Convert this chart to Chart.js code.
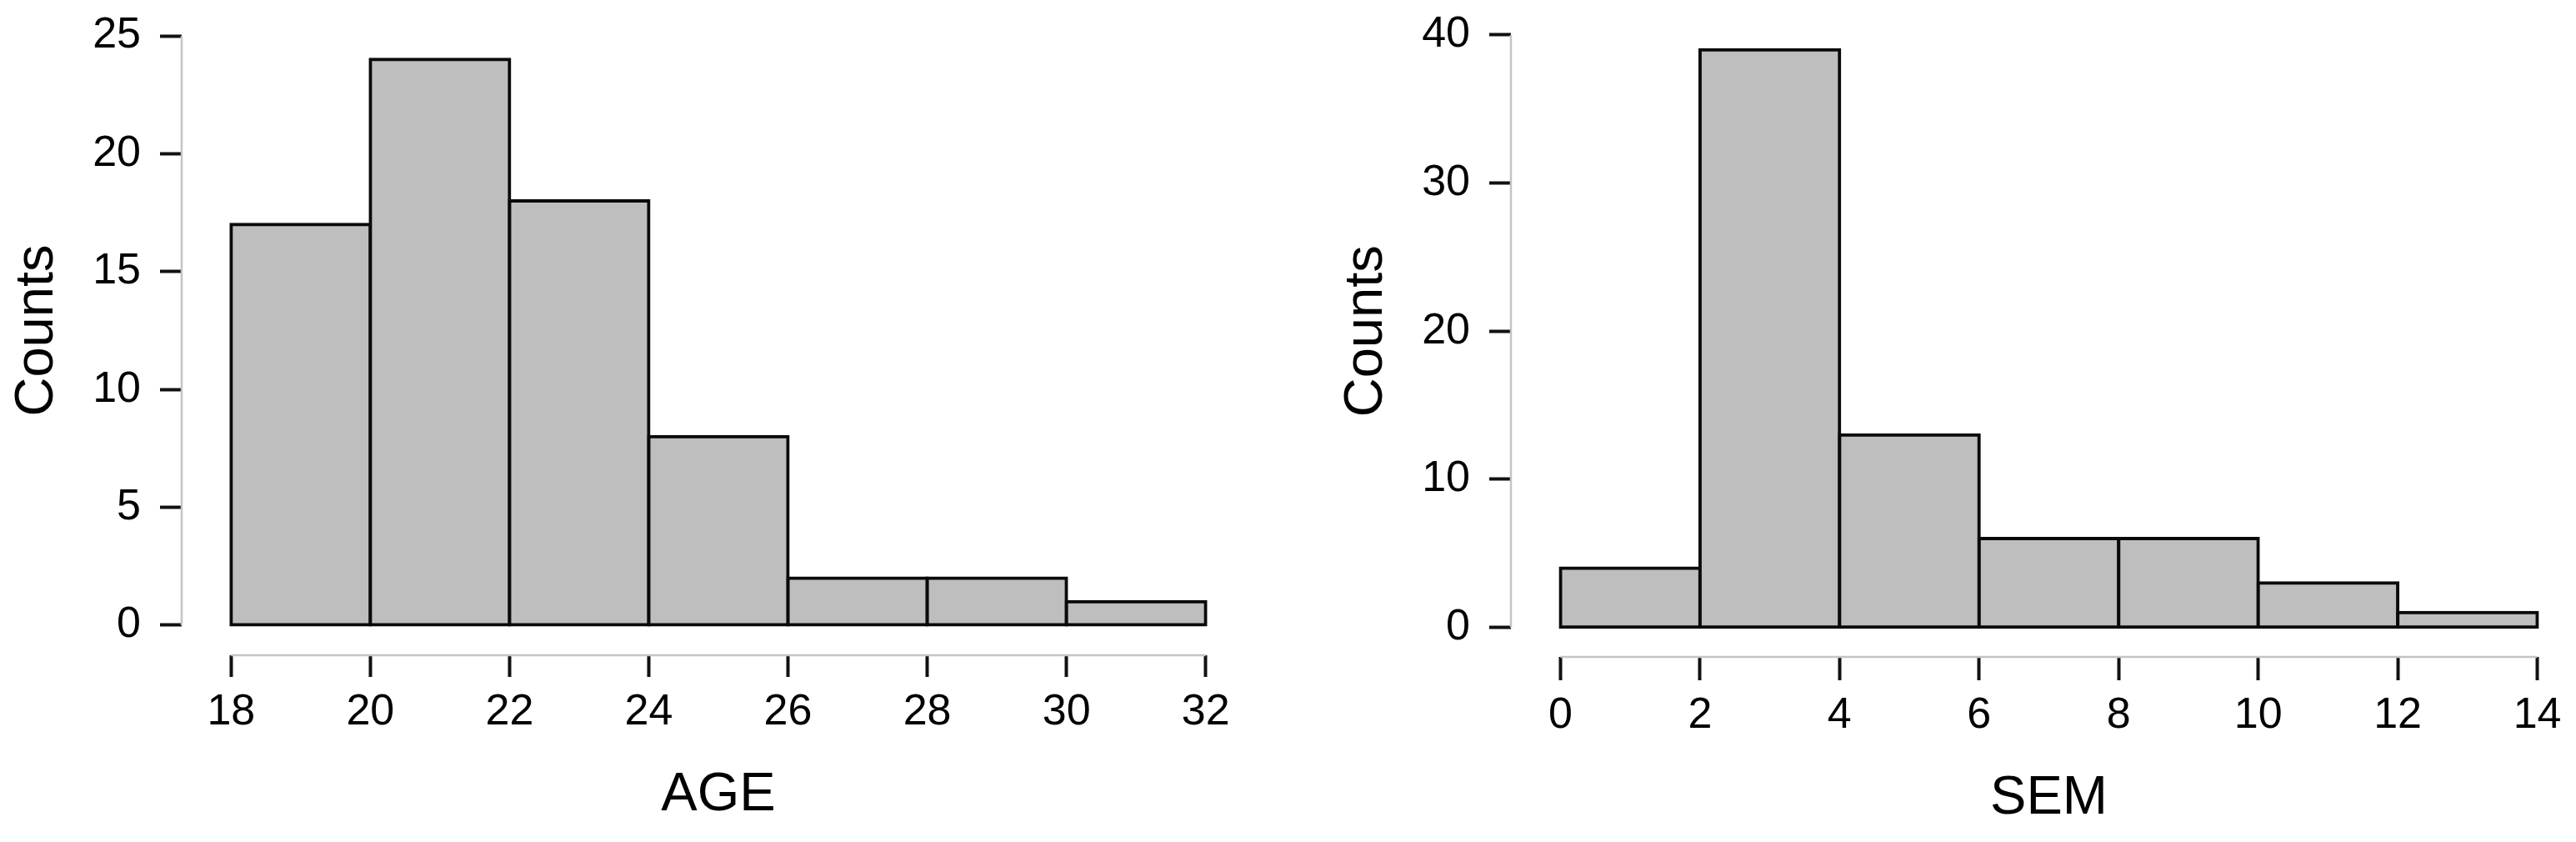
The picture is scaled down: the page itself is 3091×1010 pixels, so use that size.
<!DOCTYPE html>
<html>
<head>
<meta charset="utf-8">
<script src="https://cdn.jsdelivr.net/npm/chart.js@4.4.0/dist/chart.umd.min.js"></script>
<style>
  html, body { margin: 0; padding: 0; background: #fff; overflow: hidden; }
  body { width: 3091px; height: 1010px; position: relative; }
  canvas { position: absolute; top: 0; }
</style>
</head>
<body>
<canvas id="ageChart" width="1506" height="1010" style="left:0px"></canvas>
<canvas id="semChart" width="1509" height="1010" style="left:1595px"></canvas>
<script>
// histogram data (bin starts, bin width 2)
const ageBins = [18, 20, 22, 24, 26, 28, 30];
const ageCounts = [17, 24, 18, 8, 2, 2, 1];
const ageTicks = [18, 20, 22, 24, 26, 28, 30, 32];
const ageCountTicks = [0, 5, 10, 15, 20, 25];

const semBins = [0, 2, 4, 6, 8, 10, 12];
const semCounts = [4, 39, 13, 6, 6, 3, 1];
const semTicks = [0, 2, 4, 6, 8, 10, 12, 14];
const semCountTicks = [0, 10, 20, 30, 40];

const binWidth = 2;

Chart.defaults.font.family = "'Liberation Sans', Arial, sans-serif";
Chart.defaults.color = '#000';

// R-style axis lines: only from first to last tick
const axisLines = {
  id: 'axisLines',
  afterDraw(chart) {
    const { ctx, scales: { x, y } } = chart;
    const xt = x.ticks, yt = y.ticks;
    ctx.save();
    ctx.strokeStyle = '#c4c4c4';
    ctx.lineWidth = 2.5;
    ctx.beginPath();
    ctx.moveTo(x.getPixelForValue(xt[0].value), x.top);
    ctx.lineTo(x.getPixelForValue(xt[xt.length - 1].value), x.top);
    ctx.moveTo(y.right, y.getPixelForValue(yt[0].value));
    ctx.lineTo(y.right, y.getPixelForValue(yt[yt.length - 1].value));
    ctx.stroke();
    ctx.restore();
  }
};

function makeHist(id, bins, counts, xTicks, yTicks, xTitle, opts) {
  const xGap = 0.71;
  const xMin = xTicks[0], xMax = xTicks[xTicks.length - 1];
  const yMax = yTicks[yTicks.length - 1];
  const tickFont = { size: 52 };
  const titleFont = { size: 65 };

  return new Chart(document.getElementById(id), {
    type: 'bar',
    data: {
      datasets: [{
        data: bins.map((b, i) => ({ x: b + binWidth / 2, y: counts[i] })),
        backgroundColor: '#bebebe',
        borderColor: '#0a0a0a',
        borderWidth: 4,
        inflateAmount: 2,
        borderSkipped: false,
        barPercentage: 1,
        categoryPercentage: 1
      }]
    },
    options: {
      responsive: false,
      animation: false,
      layout: { padding: { top: opts.top, left: 0, right: 0, bottom: 0 } },
      plugins: { legend: { display: false }, tooltip: { enabled: false } },
      scales: {
        x: {
          type: 'linear',
          offset: false,
          min: xMin - xGap,
          max: xMax + xGap,
          afterBuildTicks: s => { s.ticks = xTicks.map(v => ({ value: v })); },
          afterFit: s => { s.height = opts.xHeight; s.paddingLeft = 0; s.paddingRight = 0; },
          grid: { offset: false, drawOnChartArea: false, drawTicks: true, tickLength: opts.xTick, tickWidth: 4, tickColor: '#111' },
          border: { display: false },
          ticks: { font: tickFont, padding: opts.xPad, maxRotation: 0, autoSkip: false, callback: v => String(v) },
          title: { display: true, text: xTitle, font: titleFont, padding: { top: 0, bottom: opts.titlePad } }
        },
        y: {
          min: -opts.yGap,
          max: yMax + opts.yGap,
          afterBuildTicks: s => { s.ticks = yTicks.map(v => ({ value: v })); },
          afterFit: s => { s.width = 218; s.paddingTop = 0; s.paddingBottom = 0; },
          grid: { drawOnChartArea: false, drawTicks: true, tickLength: 26, tickWidth: 4, tickColor: '#111' },
          border: { display: false },
          ticks: { font: tickFont, padding: 23, callback: v => String(v) },
          title: { display: true, text: 'Counts', font: titleFont, padding: { top: 6, bottom: 0 } }
        }
      }
    },
    plugins: [axisLines]
  });
}

makeHist('ageChart', ageBins, ageCounts, ageTicks, ageCountTicks, 'AGE',
  { top: 7, xHeight: 224, xTick: 26, xPad: 11.5, titlePad: 17, yGap: 1.273 });
makeHist('semChart', semBins, semCounts, semTicks, semCountTicks, 'SEM',
  { top: 6.5, xHeight: 222, xTick: 28, xPad: 11, titlePad: 13, yGap: 1.99 });
</script>
</body>
</html>
